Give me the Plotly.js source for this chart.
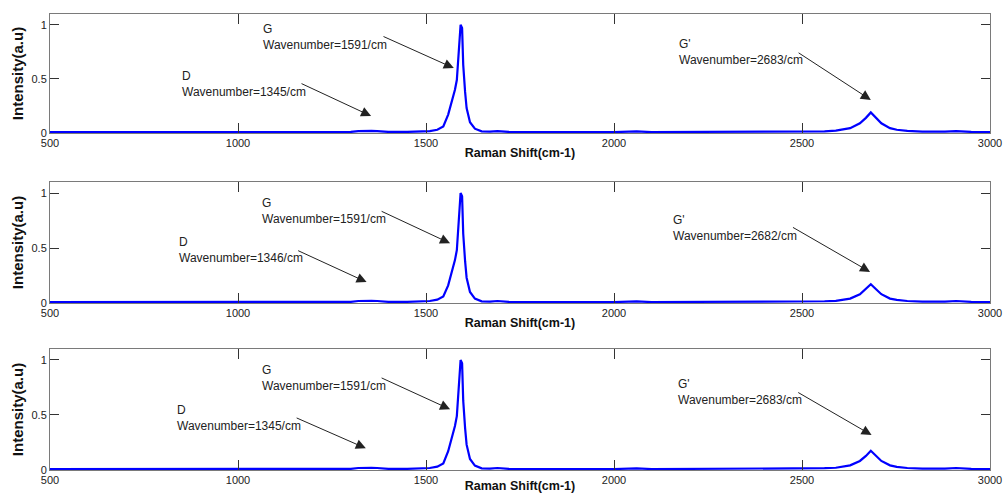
<!DOCTYPE html>
<html>
<head>
<meta charset="utf-8">
<script src="https://cdn.plot.ly/plotly-3.0.1.min.js"></script>
<style>html,body{margin:0;padding:0;background:#fff;}#chart{width:1003px;height:493px;}</style>
</head>
<body>
<div id="chart"></div>
<script>
// Raman shift (cm-1) sample points
const ramanShift = [500, 1200, 1300, 1320, 1335, 1345, 1355, 1370, 1400, 1450, 1480, 1510, 1530, 1546, 1559, 1568, 1577, 1582, 1586, 1590, 1592, 1596, 1599, 1604, 1608, 1617, 1630, 1648, 1670, 1690, 1720, 2000, 2030, 2060, 2100, 2440, 2480, 2520, 2560, 2590, 2605, 2628, 2654, 2670, 2683, 2697, 2711, 2734, 2752, 2780, 2820, 2880, 2910, 2950, 3000];

// Normalised intensities, one series per panel
const intensity1 = [0.008, 0.008, 0.010, 0.018, 0.020, 0.025, 0.020, 0.018, 0.010, 0.010, 0.015, 0.018, 0.030, 0.060, 0.170, 0.280, 0.400, 0.490, 0.720, 0.970, 1.000, 0.970, 0.630, 0.380, 0.230, 0.100, 0.040, 0.015, 0.012, 0.018, 0.010, 0.008, 0.010, 0.015, 0.008, 0.010, 0.016, 0.012, 0.016, 0.022, 0.030, 0.045, 0.090, 0.140, 0.190, 0.140, 0.090, 0.045, 0.030, 0.020, 0.012, 0.012, 0.018, 0.010, 0.008];
const intensity2 = [0.008, 0.008, 0.010, 0.018, 0.020, 0.025, 0.020, 0.018, 0.010, 0.010, 0.015, 0.018, 0.030, 0.060, 0.160, 0.270, 0.390, 0.480, 0.720, 0.970, 1.000, 0.970, 0.630, 0.380, 0.230, 0.100, 0.040, 0.015, 0.012, 0.018, 0.010, 0.008, 0.010, 0.015, 0.008, 0.010, 0.016, 0.012, 0.016, 0.020, 0.028, 0.040, 0.080, 0.125, 0.170, 0.125, 0.080, 0.040, 0.028, 0.018, 0.012, 0.012, 0.018, 0.010, 0.008];
const intensity3 = [0.008, 0.008, 0.010, 0.018, 0.020, 0.025, 0.020, 0.018, 0.010, 0.010, 0.015, 0.018, 0.030, 0.060, 0.170, 0.280, 0.400, 0.490, 0.720, 0.970, 1.000, 0.970, 0.630, 0.380, 0.230, 0.100, 0.040, 0.015, 0.012, 0.018, 0.010, 0.008, 0.010, 0.015, 0.008, 0.010, 0.016, 0.012, 0.016, 0.020, 0.028, 0.042, 0.082, 0.128, 0.175, 0.128, 0.082, 0.042, 0.028, 0.018, 0.012, 0.012, 0.018, 0.010, 0.008];

// Tick values / labels
const xTicks = [500, 1000, 1500, 2000, 2500, 3000];
const xTickLabels = ['500', '1000', '1500', '2000', '2500', '3000'];
const yTicks = [0, 0.5, 1];
const yTickLabels = ['0', '0.5', '1'];

// Peak labels per panel: [D, G, G']
const peakNames = ['D', 'G', "G'"];
const peakWavenumbers = [
  [1345, 1591, 2683],
  [1346, 1591, 2682],
  [1345, 1591, 2683]
];
// label anchor (x, y) in data units per panel
const labelX = [
  [846, 1061, 2168],
  [838, 1058, 2151],
  [832, 1058, 2165]
];
const labelY = [
  [0.449, 0.884, 0.745],
  [0.479, 0.832, 0.680],
  [0.474, 0.836, 0.705]
];
// arrow tail and head in data units per panel
const arrowTailX = [[1165, 1383, 2487], [1156, 1378, 2472], [1152, 1378, 2486]];
const arrowTailY = [[0.463, 0.898, 0.750], [0.482, 0.840, 0.695], [0.479, 0.843, 0.712]];
const arrowHeadX = [[1354, 1574, 2683], [1342, 1564, 2681], [1340, 1564, 2685]];
const arrowHeadY = [[0.157, 0.600, 0.306], [0.190, 0.543, 0.283], [0.197, 0.552, 0.318]];

const series = [intensity1, intensity2, intensity3];
const domains = [[0.7302, 0.9716], [0.3854, 0.6308], [0.0467, 0.2921]];

const FONT = 'Arial, "Liberation Sans", sans-serif';

const data = series.map((ys, i) => ({
  type: 'scatter',
  mode: 'lines',
  x: ramanShift,
  y: ys,
  xaxis: i === 0 ? 'x' : 'x' + (i + 1),
  yaxis: i === 0 ? 'y' : 'y' + (i + 1),
  line: {color: '#0000ff', width: 2.2},
  showlegend: false,
  hoverinfo: 'x+y'
}));

const layout = {
  width: 1003,
  height: 493,
  autosize: false,
  margin: {l: 50, r: 13, t: 0, b: 0},
  paper_bgcolor: '#ffffff',
  plot_bgcolor: '#ffffff',
  font: {family: FONT, size: 12, color: '#222'},
  showlegend: false,
  annotations: []
};

for (let i = 0; i < 3; i++) {
  const sx = i === 0 ? '' : String(i + 1);
  layout['xaxis' + sx] = {
    anchor: 'y' + sx,
    domain: [0, 1],
    range: [500, 3000],
    tickmode: 'array',
    tickvals: xTicks,
    ticktext: xTickLabels,
    ticks: 'inside',
    ticklen: 10,
    tickwidth: 1,
    tickcolor: '#333',
    showline: true,
    linecolor: '#7a7a7a',
    linewidth: 1,
    mirror: 'ticks',
    showgrid: false,
    zeroline: false,
    tickfont: {family: FONT, size: 11, color: '#222'},
    title: {text: '<b>Raman Shift(cm-1)</b>', font: {family: FONT, size: 12.5, color: '#111'}, standoff: 0}
  };
  layout['yaxis' + sx] = {
    anchor: 'x' + sx,
    domain: domains[i],
    range: [0, 1.1],
    tickmode: 'array',
    tickvals: yTicks,
    ticktext: yTickLabels,
    ticks: 'inside',
    ticklen: 9,
    tickwidth: 1,
    tickcolor: '#333',
    showline: true,
    linecolor: '#7a7a7a',
    linewidth: 1,
    mirror: 'ticks',
    showgrid: false,
    zeroline: false,
    tickfont: {family: FONT, size: 11, color: '#222'},
    title: {text: '<b>Intensity(a.u)</b>', font: {family: FONT, size: 15, color: '#111'}, standoff: 4}
  };
  const xr = 'x' + sx, yr = 'y' + sx;
  for (let k = 0; k < 3; k++) {
    layout.annotations.push({
      xref: xr, yref: yr,
      x: labelX[i][k], y: labelY[i][k],
      xanchor: 'left', yanchor: 'middle', align: 'left',
      text: peakNames[k] + '<br>Wavenumber=' + peakWavenumbers[i][k] + '/cm',
      showarrow: false,
      font: {family: FONT, size: 12, color: '#222'}
    });
    layout.annotations.push({
      xref: xr, yref: yr, axref: xr, ayref: yr,
      x: arrowHeadX[i][k], y: arrowHeadY[i][k],
      ax: arrowTailX[i][k], ay: arrowTailY[i][k],
      text: '',
      showarrow: true,
      arrowhead: 2,
      arrowsize: 2,
      arrowwidth: 1,
      arrowcolor: '#222'
    });
  }
}

Plotly.newPlot('chart', data, layout, {staticPlot: true, displayModeBar: false});
</script>
</body>
</html>
